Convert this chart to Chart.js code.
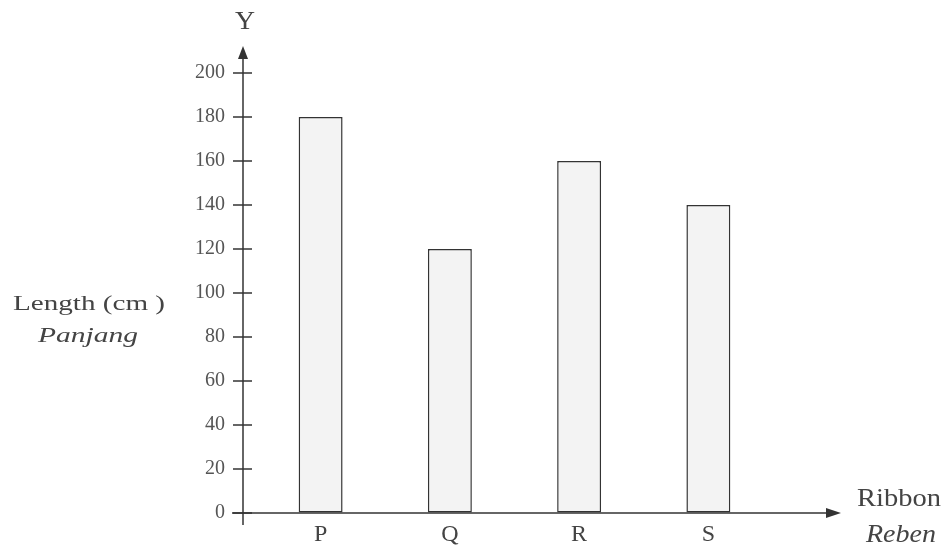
<!DOCTYPE html>
<html lang="en">
<head>
  <meta charset="UTF-8">
  <title>Ribbon length</title>
  <script src="https://cdn.jsdelivr.net/npm/chart.js"></script>
  <style>
    body { margin: 0; background: #fff; }
    #wrap { width: 944px; height: 550px; }
  </style>
</head>
<body>
  <div id="wrap"><canvas id="ribbonChart" width="944" height="550"></canvas></div>
  <script>
    // data
    const ribbons = ['P', 'Q', 'R', 'S'];
    const lengths = [180, 120, 160, 140];
    const yTicks = [0, 20, 40, 60, 80, 100, 120, 140, 160, 180, 200];

    const ink = '#333';
    const serif = '"Liberation Serif", "DejaVu Serif", serif';

    // text stretched sideways to a given width (the scan is a bit wide)
    function wideText(ctx, txt, cx, cy, font, w) {
      ctx.font = font;
      const m = ctx.measureText(txt).width;
      ctx.save();
      ctx.translate(cx, cy);
      ctx.scale(w / m, 1);
      ctx.fillText(txt, 0, 0);
      ctx.restore();
    }

    // hand drawn style axes with arrows + the axis captions
    const axesPlugin = {
      id: 'axes',
      afterDraw(chart) {
        const ctx = chart.ctx;
        const y = chart.scales.y;
        const ax = 243;
        const y0 = y.getPixelForValue(0);
        ctx.save();
        ctx.strokeStyle = ink;
        ctx.fillStyle = ink;
        ctx.lineWidth = 1.5;

        // y axis
        ctx.beginPath();
        ctx.moveTo(ax, y0 + 12);
        ctx.lineTo(ax, 55);
        ctx.stroke();
        ctx.beginPath();
        ctx.moveTo(ax, 46);
        ctx.lineTo(ax - 5, 59);
        ctx.lineTo(ax + 5, 59);
        ctx.closePath();
        ctx.fill();

        // y tick marks
        yTicks.forEach(v => {
          const p = y.getPixelForValue(v);
          ctx.beginPath();
          ctx.moveTo(ax - 10, p);
          ctx.lineTo(ax + 9, p);
          ctx.stroke();
        });

        // x axis
        ctx.beginPath();
        ctx.moveTo(ax - 11, y0);
        ctx.lineTo(830, y0);
        ctx.stroke();
        ctx.beginPath();
        ctx.moveTo(841, y0);
        ctx.lineTo(826, y0 - 5);
        ctx.lineTo(826, y0 + 5);
        ctx.closePath();
        ctx.fill();

        // captions
        ctx.fillStyle = '#444';
        ctx.textAlign = 'center';
        ctx.textBaseline = 'middle';
        wideText(ctx, 'Y', 245, 22, '25px ' + serif, 20);
        wideText(ctx, 'Length (cm )', 89, 304, '22px ' + serif, 152);
        wideText(ctx, 'Panjang', 88, 336, 'italic 22px ' + serif, 100);
        wideText(ctx, 'Ribbon', 899, 499, '25px ' + serif, 84);
        wideText(ctx, 'Reben', 901, 535, 'italic 25px ' + serif, 70);
        ctx.restore();
      }
    };

    new Chart(document.getElementById('ribbonChart'), {
      type: 'bar',
      data: {
        labels: ribbons,
        datasets: [{
          data: lengths,
          backgroundColor: '#f3f3f3',
          borderColor: ink,
          borderWidth: 1.5,
          borderSkipped: false,
          barPercentage: 0.34,
          categoryPercentage: 1
        }]
      },
      options: {
        responsive: false,
        animation: false,
        layout: { padding: { top: 73, right: 171, left: 0, bottom: 0 } },
        plugins: { legend: { display: false }, tooltip: { enabled: false } },
        scales: {
          x: {
            grid: { display: false },
            border: { display: false },
            ticks: { color: '#444', padding: -1, font: { family: serif, size: 24 } },
            afterFit(scale) { scale.height = 37; }
          },
          y: {
            min: 0,
            max: 200,
            // invisible tick marks just to push the labels away from the bars
            grid: { color: 'transparent', drawOnChartArea: false, drawTicks: true, tickLength: 28 },
            border: { display: false },
            afterBuildTicks(scale) { scale.ticks = yTicks.map(v => ({ value: v })); },
            ticks: { color: '#555', padding: 3, font: { family: serif, size: 20 } },
            afterFit(scale) { scale.width = 256; }
          }
        }
      },
      plugins: [axesPlugin]
    });
  </script>
</body>
</html>
